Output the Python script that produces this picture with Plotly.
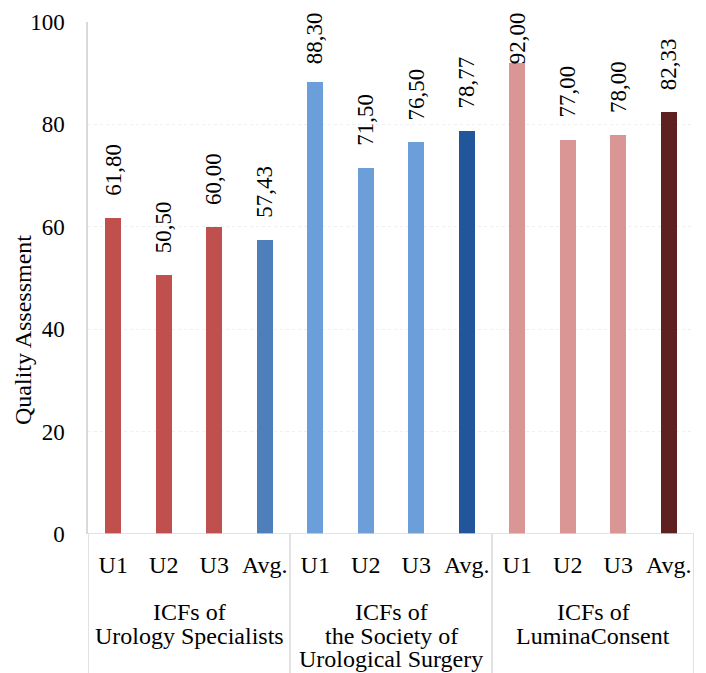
import plotly.graph_objects as go

categories = ["U1", "U2", "U3", "Avg.", "U1", "U2", "U3", "Avg.", "U1", "U2", "U3", "Avg."]
values = [61.80, 50.50, 60.00, 57.43, 88.30, 71.50, 76.50, 78.77, 92.00, 77.00, 78.00, 82.33]
group_lines = [["ICFs of", "Urology Specialists"],
               ["ICFs of", "the Society of", "Urological Surgery"],
               ["ICFs of", "LuminaConsent"]]
colors = ["#C0504D", "#C0504D", "#C0504D", "#4F7FBA",
          "#6C9FD9", "#6C9FD9", "#6C9FD9", "#22569A",
          "#D99694", "#D99694", "#D99694", "#5F2120"]
y_ticks = [0, 20, 40, 60, 80, 100]
y_title = "Quality Assessment"

xs = list(range(len(categories)))
labels = [f"{v:.2f}".replace(".", ",") for v in values]

font = "Liberation Serif, Times New Roman, serif"
FN = 23   # numbers
FT = 24   # words
W, H, L, R, T, B = 706, 673, 88, 12, 22, 139
plot_h = H - T - B
plot_w = W - L - R
px_per_unit = plot_h / 100.0

fig = go.Figure(go.Bar(
    x=xs, y=values, width=0.32,
    marker=dict(color=colors, line=dict(width=0)),
    hoverinfo="skip",
))

shapes = []
for b in [-0.5, 3.5, 7.5, 11.5]:
    shapes.append(dict(type="line", xref="x", yref="paper", x0=b, x1=b,
                       y0=0, y1=-0.3, line=dict(color="#d9d9d9", width=1.5)))
shapes.append(dict(type="line", xref="paper", yref="y", x0=0, x1=1, y0=0, y1=0,
                   line=dict(color="#d9d9d9", width=1.5)))

annotations = []
# data labels (rotated), kept inside the chart area like the original
for x, v, t in zip(xs, values, labels):
    bar_top_px = T + (100 - v) * px_per_unit
    shift = min(20, bar_top_px - 14 - 52)
    annotations.append(dict(x=x, y=v, xref="x", yref="y", text=t, showarrow=False,
                            textangle=-90, yanchor="bottom", yshift=shift,
                            font=dict(family=font, size=FN, color="#000")))
# group labels, one annotation per line
line_px = [612, 636, 659]
for i, lines in enumerate(group_lines):
    for j, ln in enumerate(lines):
        annotations.append(dict(x=i * 4 + 1.5, y=-(line_px[j] - (H - B)) / plot_h,
                                xref="x", yref="paper", text=ln, showarrow=False,
                                yanchor="middle",
                                font=dict(family=font, size=FT, color="#000")))
# y-axis title
annotations.append(dict(x=(23 - L) / plot_w, y=(H - B - 330) / plot_h,
                        xref="paper", yref="paper", text=y_title, showarrow=False,
                        textangle=-90, xanchor="center", yanchor="middle",
                        font=dict(family=font, size=FT, color="#000")))

fig.update_layout(
    width=W, height=H,
    margin=dict(l=L, r=R, t=T, b=B, autoexpand=False),
    paper_bgcolor="white", plot_bgcolor="white",
    showlegend=False, bargap=0,
    shapes=shapes, annotations=annotations,
    xaxis=dict(range=[-0.5, 11.5], tickvals=xs, ticktext=categories, automargin=False,
               tickfont=dict(family=font, size=FT, color="#000"),
               showgrid=False, zeroline=False, showline=False,
               ticks="outside", ticklen=9, tickcolor="rgba(0,0,0,0)"),
    yaxis=dict(range=[0, 100], tickvals=y_ticks, automargin=False,
               tickfont=dict(family=font, size=FN, color="#000"),
               showgrid=True, gridcolor="#efefef", griddash="dot",
               zeroline=False, showline=True, linecolor="#d9d9d9", linewidth=1.5,
               ticks="outside", ticklen=17, tickcolor="rgba(0,0,0,0)"),
)

fig.write_html("out.html", config={"displayModeBar": False},
               post_script="document.body.style.margin='0px';")
